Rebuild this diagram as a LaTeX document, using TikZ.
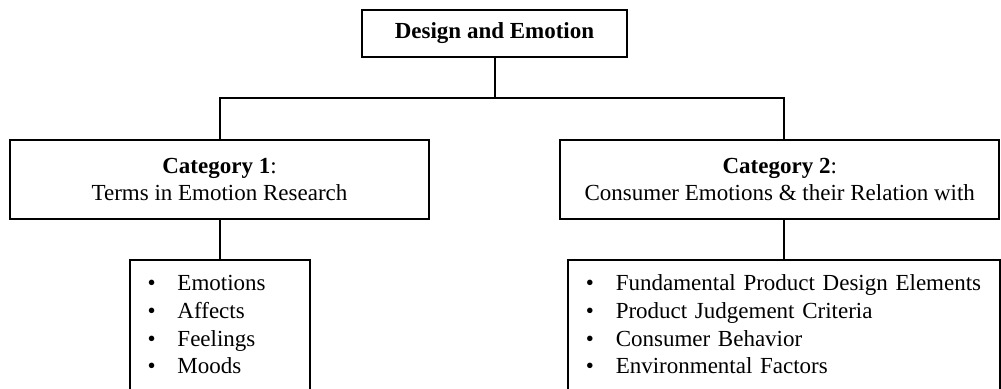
\documentclass[tikz,border=0pt]{standalone}
\usepackage{fontspec}
\setmainfont{Liberation Serif}
\usetikzlibrary{positioning}
\newcommand{\bul}[1]{\mbox{\makebox[15pt][l]{\textbullet}#1}}

\begin{document}
\begin{tikzpicture}[x=0.5pt, y=0.5pt, font=\fontsize{11.5pt}{13.8pt}\selectfont,
	box/.style={draw, line width=1pt, inner sep=0pt, align=center},
	listbox/.style={draw, line width=1pt, anchor=north, align=left, inner xsep=9pt, inner ysep=8pt, text height=7.5pt, text depth=70pt},
	link/.style={line width=1pt}]
\useasboundingbox (0,0) rectangle (1001,-389);
\clip (0,0) rectangle (1001,-389);
\node [box, minimum width=132.5pt, minimum height=23.5pt] (top) at (494.5,-33.5) {\textbf{Design and Emotion}};
\node [box, minimum width=209.5pt, minimum height=39.5pt] (cat1) at (219.5,-179.5) {\textbf{Category 1}:\\Terms in Emotion Research};
\node [box, minimum width=219.5pt, minimum height=39.5pt] (cat2) at (779.75,-179.5) {\textbf{Category 2}:\\Consumer Emotions \& their Relation with};
\node [listbox, text width=72pt, below=19.5pt of cat1] (list1) {\bul{Emotions}\\\bul{Affects}\\\bul{Feelings}\\\bul{Moods}};
\node [listbox, text width=198pt, below=19.5pt of cat2, xshift=2pt] (list2) {\bul{Fundamental Product Design Elements}\\\bul{Product Judgement Criteria}\\\bul{Consumer Behavior}\\\bul{Environmental Factors}};
\coordinate (split) at (494.5,-98);
\draw [link] (top.south) -- (split);
\draw [link] (cat1.north) |- (split) -| (list2.north |- cat2.north);
\draw [link] (cat1.south) -- (list1.north);
\draw [link] (list2.north |- cat2.south) -- (list2.north);
\end{tikzpicture}
\end{document}
